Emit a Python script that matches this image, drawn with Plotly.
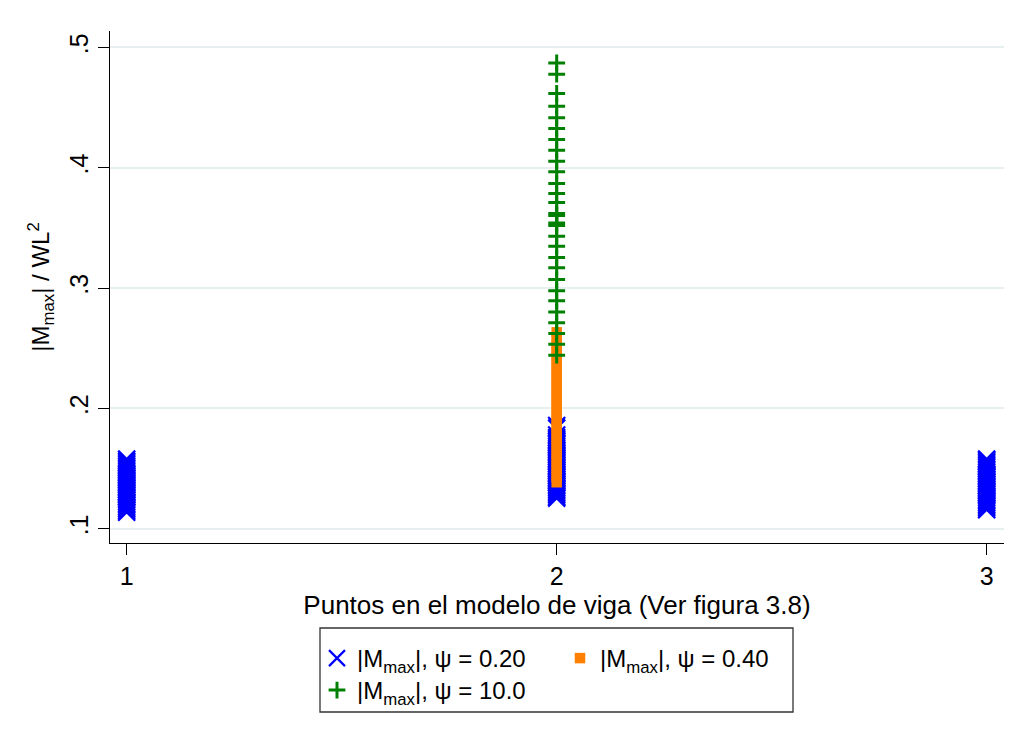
import plotly.graph_objects as go

# Puntos del modelo de viga
puntos = [1, 2, 3]
x_tick_text = ["1", "2", "3"]

# |Mmax| / WL^2, psi = 0.20, en los puntos 1, 2 y 3
m020_p1 = [0.1137, 0.1151, 0.1166, 0.1179, 0.1196, 0.1209, 0.1223, 0.1238, 0.1252,
           0.1265, 0.1281, 0.1294, 0.1308, 0.1323, 0.1336, 0.1351, 0.1365, 0.1378,
           0.1393, 0.1407, 0.1420, 0.1435, 0.1449, 0.1463, 0.1476, 0.1491, 0.1505,
           0.1518, 0.1534, 0.1548, 0.1561, 0.1578]
m020_p2 = [0.1254, 0.1268, 0.1283, 0.1297, 0.1311, 0.1326, 0.1339, 0.1355, 0.1368,
           0.1383, 0.1397, 0.1412, 0.1425, 0.1441, 0.1454, 0.1469, 0.1483, 0.1498,
           0.1512, 0.1526, 0.1540, 0.1556, 0.1569, 0.1584, 0.1598, 0.1613, 0.1627,
           0.1641, 0.1656, 0.1670, 0.1684, 0.1699, 0.1713, 0.1728, 0.1742, 0.1757,
           0.1779, 0.1836, 0.1858]
m020_p3 = [0.1158, 0.1172, 0.1187, 0.1200, 0.1216, 0.1229, 0.1243, 0.1258, 0.1271,
           0.1286, 0.1299, 0.1314, 0.1328, 0.1342, 0.1356, 0.1370, 0.1385, 0.1398,
           0.1413, 0.1427, 0.1441, 0.1455, 0.1469, 0.1484, 0.1497, 0.1512, 0.1526,
           0.1540, 0.1554, 0.1568, 0.1578]

# psi = 0.40, punto 2
m040_p2 = [0.1386, 0.1428, 0.1471, 0.1512, 0.1556, 0.1598, 0.1641, 0.1684, 0.1726,
           0.1769, 0.1811, 0.1853, 0.1897, 0.1939, 0.1982, 0.2024, 0.2067, 0.2109,
           0.2152, 0.2195, 0.2237, 0.2280, 0.2322, 0.2365, 0.2407, 0.2450, 0.2492,
           0.2535, 0.2577, 0.2632]

# psi = 10.0, punto 2
m100_p2 = [0.2442, 0.2534, 0.2623, 0.2711, 0.2802, 0.2894, 0.2977, 0.3071, 0.3168,
           0.3254, 0.3348, 0.3431, 0.3520, 0.3542, 0.3603, 0.3620, 0.3712, 0.3786,
           0.3869, 0.3966, 0.4055, 0.4146, 0.4235, 0.4327, 0.4415, 0.4512, 0.4618,
           0.4778, 0.4872]

y_ticks = [0.1, 0.2, 0.3, 0.4, 0.5]
y_tick_text = [".1", ".2", ".3", ".4", ".5"]

FONT = "Arial, Liberation Sans, sans-serif"

x_psi020 = ([puntos[0]] * len(m020_p1) + [puntos[1]] * len(m020_p2)
            + [puntos[2]] * len(m020_p3))
y_psi020 = m020_p1 + m020_p2 + m020_p3

fig = go.Figure()

fig.add_trace(go.Scatter(
    x=x_psi020, y=y_psi020, mode="markers",
    name="|M<sub>max</sub>|, ψ = 0.20",
    marker=dict(symbol="x-thin", size=17, color="#0000ff",
                line=dict(color="#0000ff", width=2.2)),
    legend="legend",
))
fig.add_trace(go.Scatter(
    x=[puntos[1]] * len(m040_p2), y=m040_p2, mode="markers",
    name="|M<sub>max</sub>|, ψ = 0.40",
    marker=dict(symbol="square", size=10.5, color="#ff8000",
                line=dict(width=0)),
    legend="legend",
))
fig.add_trace(go.Scatter(
    x=[puntos[1]] * len(m100_p2), y=m100_p2, mode="markers",
    name="|M<sub>max</sub>|, ψ = 10.0",
    marker=dict(symbol="cross-thin", size=12, color="#008000",
                line=dict(color="#008000", width=3)),
    legend="legend2",
))

# plot area in pixels: left 110, right 1004, top 31, bottom 543
L, R, T, B = 110, 1004, 31, 543
W, H = R - L, B - T


def px_x(p):
    return (p - L) / W


def px_y(p):
    return (B - p) / H


legend_common = dict(
    orientation="h",
    xanchor="left", yanchor="top",
    bgcolor="rgba(0,0,0,0)", borderwidth=0,
    font=dict(family=FONT, size=24, color="black"),
    entrywidth=198, entrywidthmode="pixels",
    tracegroupgap=0,
)

fig.update_layout(
    width=1016, height=738,
    margin=dict(l=L, r=1016 - R, t=T, b=738 - B),
    paper_bgcolor="white", plot_bgcolor="white",
    font=dict(family=FONT, size=24, color="black"),
    showlegend=True,
    legend=dict(x=px_x(317), y=px_y(636), **legend_common),
    legend2=dict(x=px_x(317), y=px_y(668), **legend_common),
    xaxis=dict(
        range=[0.9612, 3.0403],
        tickmode="array", tickvals=puntos, ticktext=x_tick_text,
        ticks="outside", ticklen=11, tickwidth=1.3, tickcolor="black",
        showline=True, linecolor="black", linewidth=1.3,
        showgrid=False, zeroline=False,
        tickfont=dict(family=FONT, size=25),
        title=dict(text="Puntos en el modelo de viga (Ver figura 3.8)",
                   font=dict(family=FONT, size=26), standoff=2),
    ),
    yaxis=dict(
        range=[0.0881, 0.5137],
        tickmode="array", tickvals=y_ticks, ticktext=y_tick_text,
        tickangle=-90,
        ticks="outside", ticklen=11, tickwidth=1.3, tickcolor="black",
        showline=True, linecolor="black", linewidth=1.3,
        showgrid=True, gridcolor="#e8eff1", gridwidth=1.5,
        zeroline=False,
        tickfont=dict(family=FONT, size=25),
        title=dict(text="|M<sub>max</sub>| / WL<sup>2</sup>",
                   font=dict(family=FONT, size=24), standoff=8),
    ),
    shapes=[dict(
        type="rect", xref="paper", yref="paper",
        x0=px_x(320), x1=px_x(793), y0=px_y(712), y1=px_y(628),
        line=dict(color="#333333", width=1.3), fillcolor="rgba(0,0,0,0)",
    )],
)

fig.write_html("out.html")
